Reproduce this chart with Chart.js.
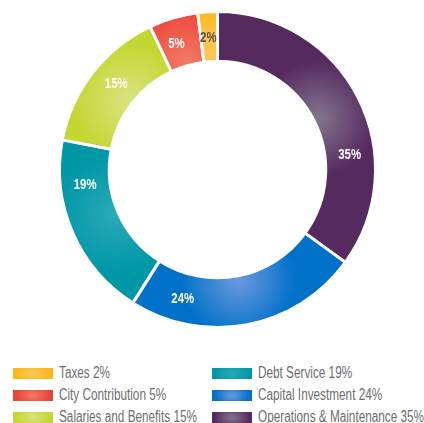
<!DOCTYPE html>
<html>
<head>
<meta charset="utf-8">
<script src="https://cdn.jsdelivr.net/npm/chart.js@4"></script>
<style>
  html, body { margin: 0; padding: 0; background: #fff; }
  body { width: 424px; height: 423px; position: relative; overflow: hidden;
         font-family: "Liberation Sans", "Roboto", sans-serif; }
  #wrap { position: absolute; left: 0; top: 0; width: 424px; height: 340px; }
  #legend { position: absolute; left: 13px; top: 362px; display: grid;
            grid-template-columns: 199px 210px; grid-template-rows: repeat(3, 22px);
            grid-auto-flow: column; }
  .item { display: flex; align-items: center; color: #6d6e71; font-size: 16px; white-space: nowrap; }
  .item span.txt { display: inline-block; transform: scaleX(0.735); transform-origin: left center; }
  .sw { width: 40px; height: 11px; margin-right: 6px; flex: none; }
</style>
</head>
<body>
<div id="wrap"><canvas id="budget_chart" width="424" height="340"></canvas></div>
<div id="legend"></div>
<script>
// budget shares, clockwise from 12 o'clock
const labels_name = ['Operations & Maintenance', 'Capital Investment', 'Debt Service', 'Salaries and Benefits', 'City Contribution', 'Taxes'];
const label_values = [35, 24, 19, 15, 5, 2];
const base_colors = ['#552a5f', '#0070c9', '#0097a7', '#c4d631', '#ec4136', '#fbb517'];
const light_colors = ['#84758f', '#6a9ade', '#2aaab8', '#d9e47f', '#f27a66', '#fcc95a'];
const text_colors = ['#ffffff', '#ffffff', '#ffffff', '#ffffff', '#ffffff', '#555555'];
// where the label sits along each arc (0 = start, 1 = end)
const label_along = [0.66, 0.8, 0.75, 0.55, 0.4, 0.45];

const total = label_values.reduce((a, b) => a + b, 0);

function segment_fill(ctx) {
    const i = ctx.dataIndex;
    const chart = ctx.chart;
    const area = chart.chartArea;
    const meta = chart.getDatasetMeta(0);
    if (!area || !meta.controller || !meta.controller.outerRadius) return base_colors[i];
    let before = 0;
    for (let k = 0; k < i; k++) before += label_values[k];
    const mid = -Math.PI / 2 + 2 * Math.PI * (before + label_values[i] / 2) / total;
    const cx = (area.left + area.right) / 2;
    const cy = (area.top + area.bottom) / 2;
    const r = meta.controller.innerRadius + 4;
    const gx = cx + r * Math.cos(mid);
    const gy = cy + r * Math.sin(mid);
    const g = chart.ctx.createRadialGradient(gx, gy, 0, gx, gy, 58);
    g.addColorStop(0, light_colors[i]);
    g.addColorStop(1, base_colors[i]);
    return g;
}

const pct_labels = {
    id: 'pct_labels',
    afterDatasetsDraw(chart) {
        const c = chart.ctx;
        const meta = chart.getDatasetMeta(0);
        meta.data.forEach(function (arc, i) {
            const p = arc.getProps(['x', 'y', 'startAngle', 'endAngle', 'innerRadius', 'outerRadius'], true);
            const a = p.startAngle + label_along[i] * (p.endAngle - p.startAngle);
            const r = (p.innerRadius + p.outerRadius) / 2;
            c.save();
            c.translate(p.x + r * Math.cos(a), p.y + r * Math.sin(a));
            c.scale(0.76, 1);
            c.font = 'bold 15px "Liberation Sans", sans-serif';
            c.textAlign = 'center';
            c.textBaseline = 'middle';
            c.fillStyle = text_colors[i];
            c.fillText(label_values[i] + '%', 0, 1);
            c.restore();
        });
    }
};

new Chart(document.getElementById('budget_chart'), {
    type: 'doughnut',
    data: {
        labels: labels_name,
        datasets: [{
            data: label_values,
            backgroundColor: segment_fill,
            borderColor: '#ffffff',
            borderWidth: 3,
            hoverOffset: 0
        }]
    },
    options: {
        responsive: false,
        animation: false,
        cutout: '68.5%',
        layout: { padding: { left: 11, right: 0, top: 10, bottom: 11 } },
        plugins: {
            legend: { display: false },
            tooltip: { enabled: false }
        }
    },
    plugins: [pct_labels]
});

// legend: two columns, filled top-down, reverse of drawing order
const legend = document.getElementById('legend');
for (let i = labels_name.length - 1; i >= 0; i--) {
    const item = document.createElement('div');
    item.className = 'item';
    const sw = document.createElement('span');
    sw.className = 'sw';
    sw.style.background = 'radial-gradient(ellipse 45% 100% at center, ' + light_colors[i] + ', ' + base_colors[i] + ')';
    item.appendChild(sw);
    const txt = document.createElement('span');
    txt.className = 'txt';
    txt.textContent = labels_name[i] + ' ' + label_values[i] + '%';
    item.appendChild(txt);
    legend.appendChild(item);
}
</script>
</body>
</html>
